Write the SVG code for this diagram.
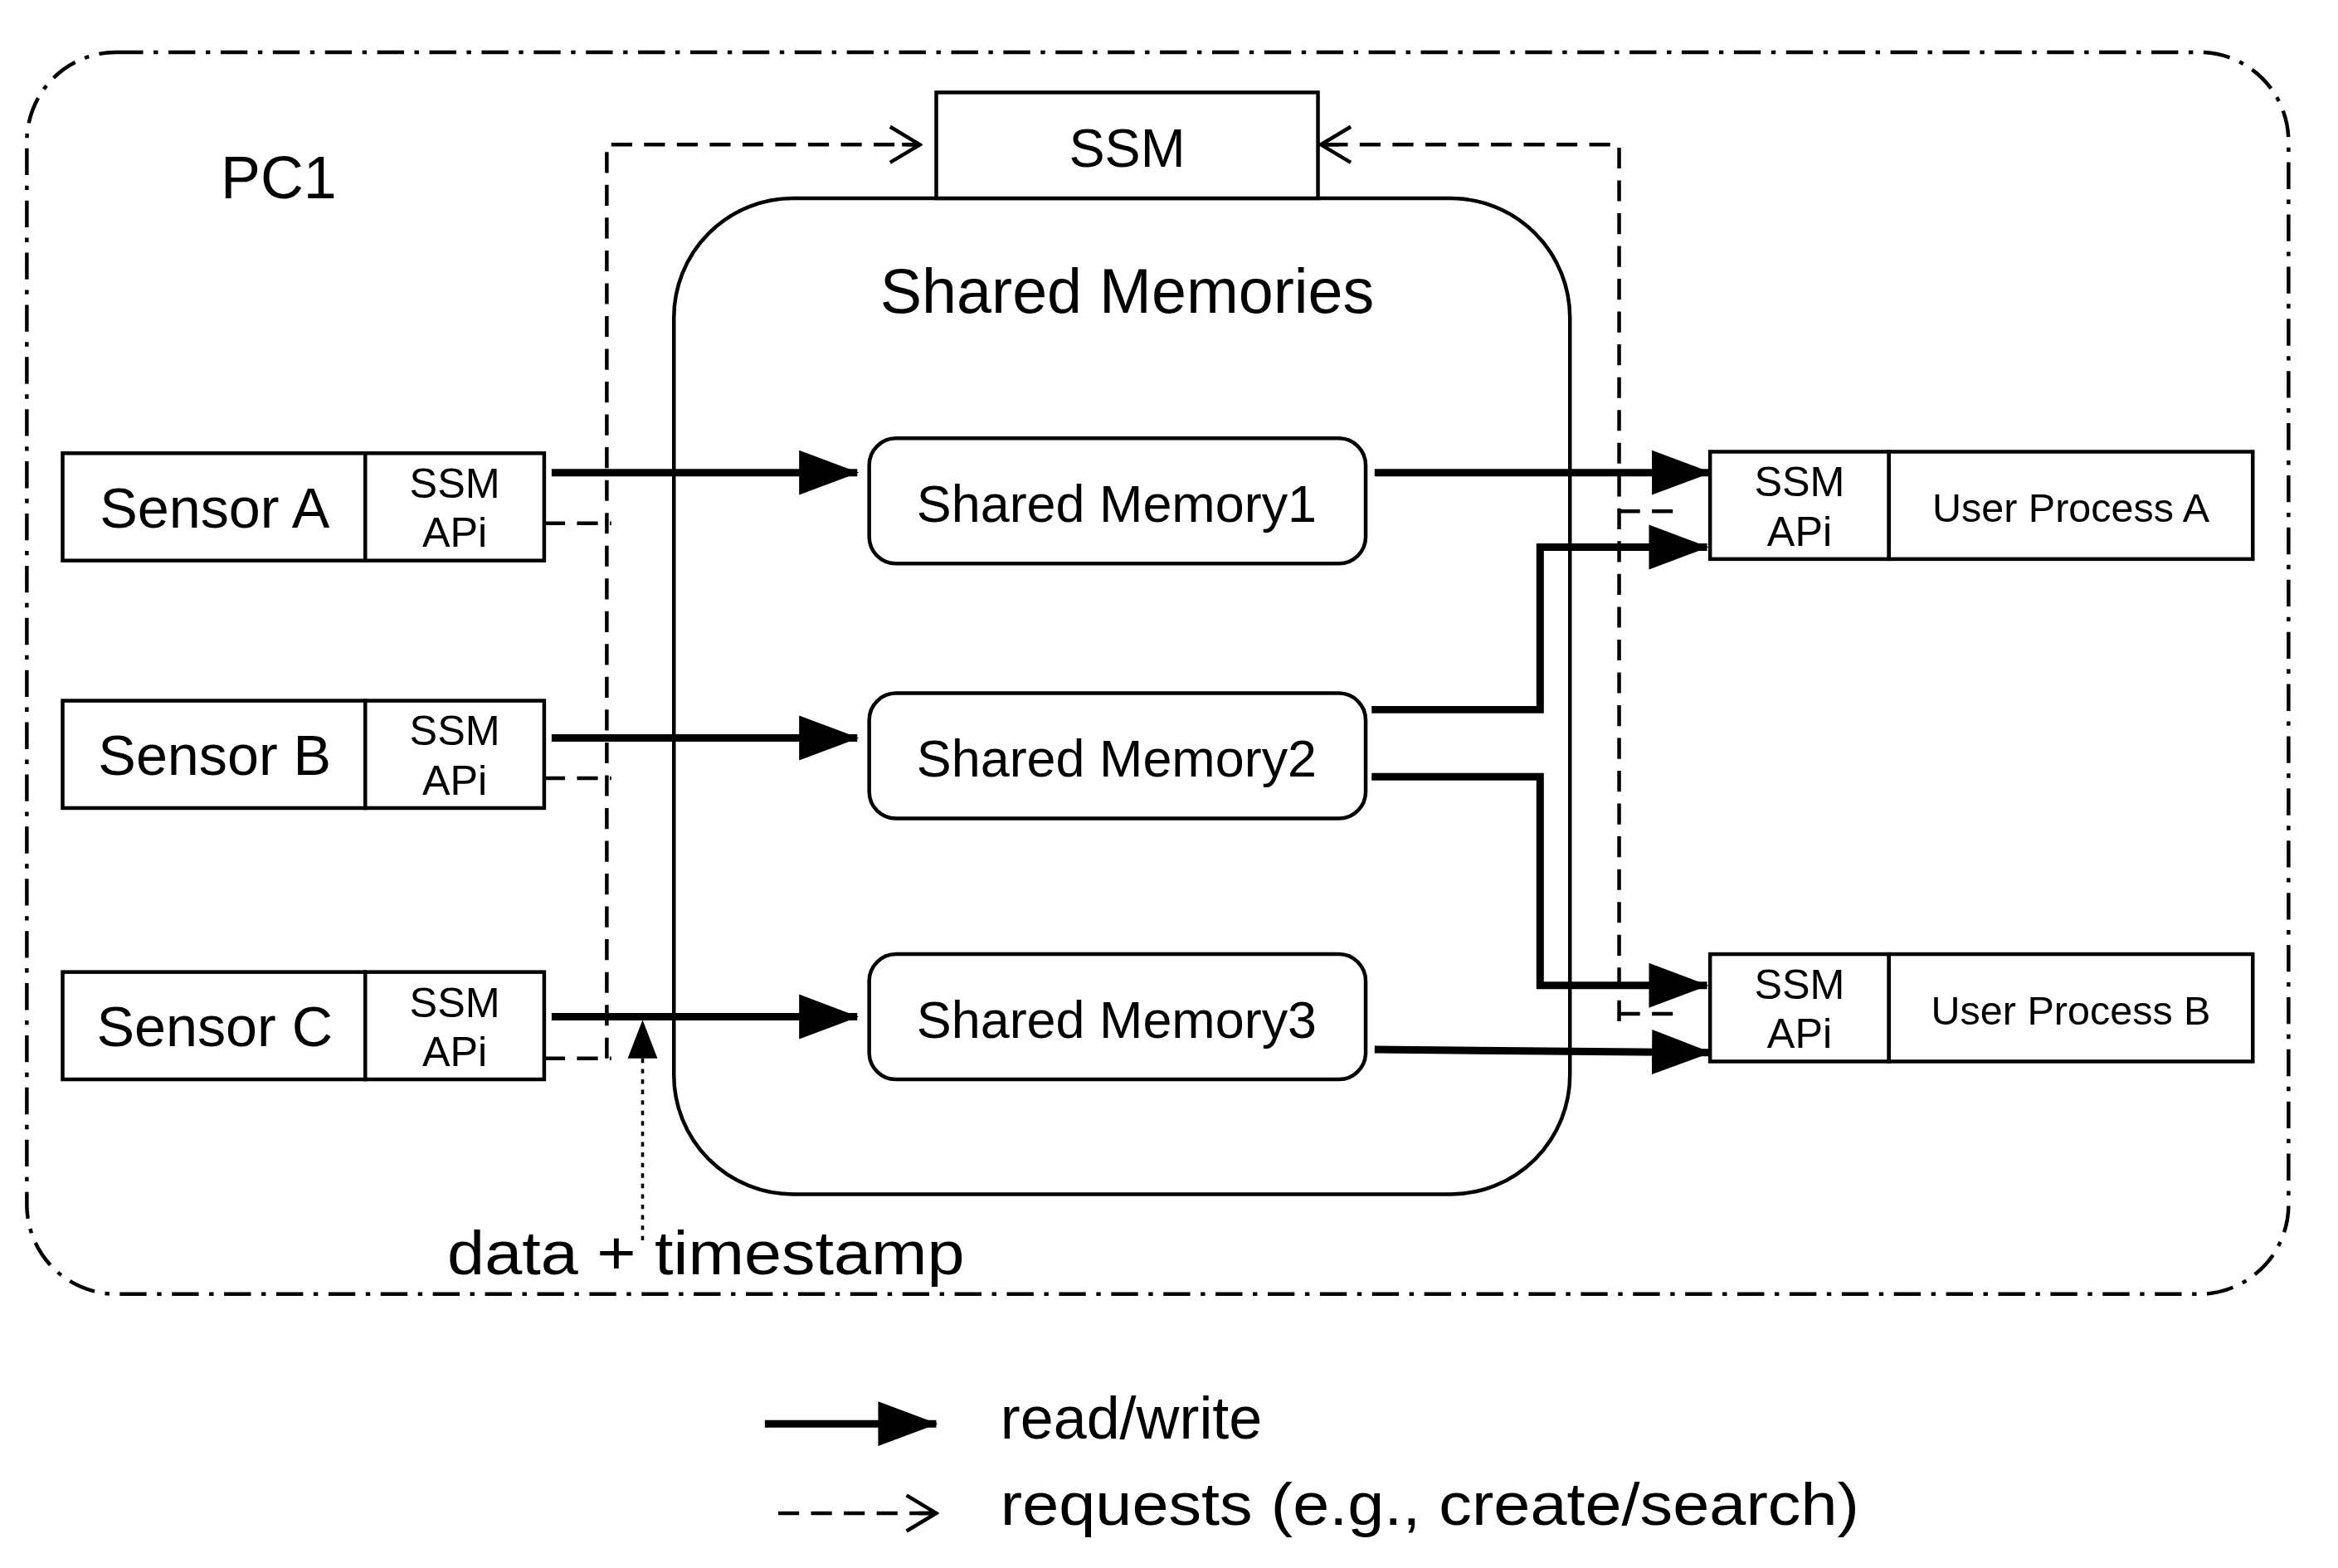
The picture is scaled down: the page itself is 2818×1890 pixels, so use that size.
<svg xmlns="http://www.w3.org/2000/svg" width="2818" height="1890" viewBox="0 0 2818 1890">
<style>
text{font-family:"Liberation Sans",Arial,sans-serif;fill:#000}
.box{fill:#fff;stroke:#000;stroke-width:2.5}
.thick{fill:none;stroke:#000;stroke-width:5}
.dash{fill:none;stroke:#000;stroke-width:2.5;stroke-dasharray:14 8}
.c{text-anchor:middle}
</style>
<defs>
<marker id="solid" markerWidth="40" markerHeight="32" refX="39" refY="16" orient="auto" markerUnits="userSpaceOnUse" viewBox="0 0 40 32"><path d="M0,1L40,16L0,31z"/></marker>
<marker id="open" markerWidth="34" markerHeight="30" refX="32" refY="15" orient="auto" markerUnits="userSpaceOnUse" viewBox="0 0 34 30"><path d="M12,3L32,15L12,27M20,15H32" fill="none" stroke="#000" stroke-width="2.5"/></marker>
</defs>
<rect width="2818" height="1890" fill="#fff"/>
<g transform="scale(1.797)">
<g id="pc1">
<rect x="18" y="35" width="1517" height="833" rx="60" fill="none" stroke="#000" stroke-width="2.5" stroke-dasharray="18 7 3 7"/>
<text x="148" y="133" font-size="40">PC1</text>
</g>
<g id="shared-memories">
<rect x="452" y="133" width="601" height="668" rx="80" class="box"/>
<text x="756" y="210" font-size="42" class="c">Shared Memories</text>
</g>
<g id="ssm">
<rect x="628" y="62" width="256" height="71" class="box"/>
<text x="756" y="112" font-size="36" class="c">SSM</text>
</g>
<g id="sm1"><rect x="583" y="294" width="333" height="84" rx="18" class="box"/><text x="749" y="350" font-size="35" class="c">Shared Memory1</text></g>
<g id="sm2"><rect x="583" y="465" width="333" height="84" rx="18" class="box"/><text x="749" y="521" font-size="35" class="c">Shared Memory2</text></g>
<g id="sm3"><rect x="583" y="640" width="333" height="84" rx="18" class="box"/><text x="749" y="696" font-size="35" class="c">Shared Memory3</text></g>
<g id="sensor-a"><rect x="42" y="304" width="203" height="72" class="box"/><rect x="245" y="304" width="120" height="72" class="box"/><text x="144" y="354" font-size="38" class="c">Sensor A</text><text x="305" y="334" font-size="28" class="c">SSM</text><text x="305" y="367" font-size="28" class="c">APi</text></g>
<g id="sensor-b"><rect x="42" y="470" width="203" height="72" class="box"/><rect x="245" y="470" width="120" height="72" class="box"/><text x="144" y="520" font-size="38" class="c">Sensor B</text><text x="305" y="500" font-size="28" class="c">SSM</text><text x="305" y="533" font-size="28" class="c">APi</text></g>
<g id="sensor-c"><rect x="42" y="652" width="203" height="72" class="box"/><rect x="245" y="652" width="120" height="72" class="box"/><text x="144" y="702" font-size="38" class="c">Sensor C</text><text x="305" y="682" font-size="28" class="c">SSM</text><text x="305" y="715" font-size="28" class="c">APi</text></g>
<g id="user-a"><rect x="1147" y="303" width="120" height="72" class="box"/><rect x="1267" y="303" width="244" height="72" class="box"/><text x="1207" y="333" font-size="28" class="c">SSM</text><text x="1207" y="366" font-size="28" class="c">APi</text><text x="1389" y="350" font-size="27" class="c">User Process A</text></g>
<g id="user-b"><rect x="1147" y="640" width="120" height="72" class="box"/><rect x="1267" y="640" width="244" height="72" class="box"/><text x="1207" y="670" font-size="28" class="c">SSM</text><text x="1207" y="703" font-size="28" class="c">APi</text><text x="1389" y="687" font-size="27" class="c">User Process B</text></g>
<g id="connectors">
<path class="thick" marker-end="url(#solid)" d="M370,317H575"/>
<path class="thick" marker-end="url(#solid)" d="M370,495H575"/>
<path class="thick" marker-end="url(#solid)" d="M370,682H575"/>
<path class="thick" marker-end="url(#solid)" d="M922,317H1147"/>
<path class="thick" marker-end="url(#solid)" d="M920,476H1033V367H1145"/>
<path class="thick" marker-end="url(#solid)" d="M920,521H1033V661H1145"/>
<path class="thick" marker-end="url(#solid)" d="M922,704L1147,706"/>
<path class="dash" marker-end="url(#open)" d="M407,710V97H617"/>
<path class="dash" d="M365,351H410M365,522H410M365,710H410"/>
<path class="dash" marker-end="url(#open)" d="M1086,685V97H886"/>
<path class="dash" d="M1086,343H1130M1086,680H1130"/>
<path fill="none" stroke="#000" stroke-width="2" stroke-dasharray="3 4" d="M431,832V705"/>
<path d="M431,684L421,710H441z"/>
<text x="300" y="855" font-size="41" textLength="347" lengthAdjust="spacingAndGlyphs">data + timestamp</text>
</g>
<g id="legend">
<path class="thick" marker-end="url(#solid)" d="M513,955H628"/>
<text x="671" y="965" font-size="40">read/write</text>
<path class="dash" stroke-dasharray="12 8" marker-end="url(#open)" d="M522,1015H628"/>
<text x="671" y="1023" font-size="40" textLength="576" lengthAdjust="spacingAndGlyphs">requests (e.g., create/search)</text>
</g>
</g>
</svg>
